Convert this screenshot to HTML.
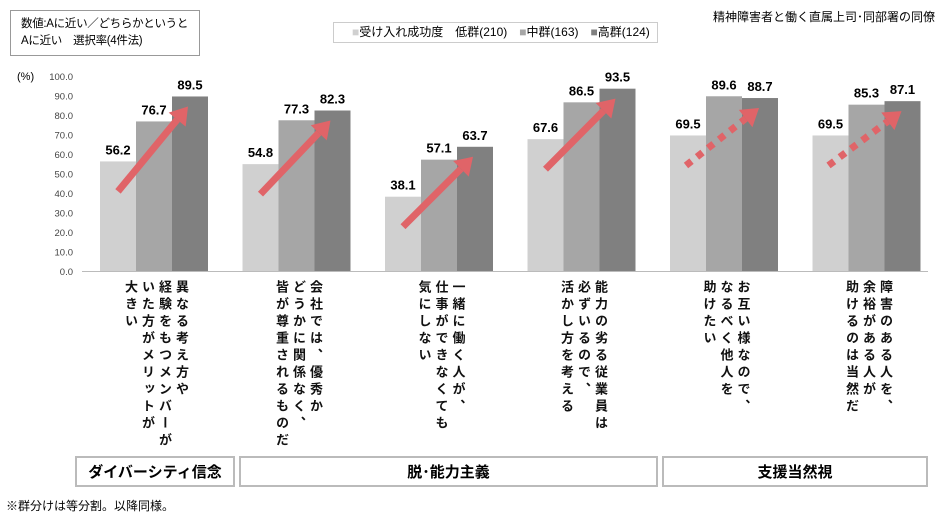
<!DOCTYPE html>
<html><head><meta charset="utf-8">
<style>
body{margin:0;background:#fff;font-family:"Liberation Sans","Noto Sans CJK JP",sans-serif;}
#wrap{position:relative;width:945px;height:520px;overflow:hidden;}
.vt{position:absolute;writing-mode:vertical-rl;font-weight:bold;font-size:13px;line-height:17px;letter-spacing:4px;color:#111;}
.box{position:absolute;border:2px solid #bbb;box-sizing:border-box;display:flex;align-items:center;justify-content:center;font-weight:bold;font-size:15px;}
</style></head><body>
<div id="wrap">
<div style="position:absolute;left:10px;top:10px;width:190px;height:46px;border:1px solid #999;box-sizing:border-box;font-size:11.5px;line-height:17px;padding:5px 0 0 10px;white-space:nowrap;letter-spacing:-0.3px;">数値:Aに近い／どちらかというと<br>Aに近い　選択率(4件法)</div>
<div style="position:absolute;right:10px;top:8px;font-size:12px;">精神障害者と働く直属上司･同部署の同僚</div>
<div style="position:absolute;left:333px;top:22px;width:325px;height:21px;border:1px solid #ccc;box-sizing:border-box;font-size:12px;line-height:19px;padding-left:18px;white-space:nowrap;">
<span style="color:#d0d0d0">■</span>受け入れ成功度　低群(210)　<span style="color:#a6a6a6">■</span>中群(163)　<span style="color:#808080">■</span>高群(124)</div>
<svg id="svg" width="945" height="520" style="position:absolute;left:0;top:0"></svg>
<div id="labels"></div>
<div class="box" style="left:75px;top:456px;width:160px;height:31px;">ダイバーシティ信念</div>
<div class="box" style="left:239px;top:456px;width:419px;height:31px;">脱･能力主義</div>
<div class="box" style="left:662px;top:456px;width:266px;height:31px;">支援当然視</div>
<div style="position:absolute;left:6px;top:497px;font-size:12px;">※群分けは等分割。以降同様。</div>
</div>
<script>
const categories=["異なる考え方や\n経験をもつメンバーが\nいた方がメリットが\n大きい","会社では、優秀か\nどうかに関係なく、\n皆が尊重されるものだ","一緒に働く人が、\n仕事ができなくても\n気にしない","能力の劣る従業員は\n必ずいるので、\n活かし方を考える","お互い様なので、\nなるべく他人を\n助けたい","障害のある人を、\n余裕がある人が\n助けるのは当然だ"];
const lowVals=[56.2,54.8,38.1,67.6,69.5,69.5];
const midVals=[76.7,77.3,57.1,86.5,89.6,85.3];
const highVals=[89.5,82.3,63.7,93.5,88.7,87.1];
const dotted=[false,false,false,false,true,true];
const yTicks=[0,10,20,30,40,50,60,70,80,90,100];
const NS="http://www.w3.org/2000/svg",svg=document.getElementById('svg');
const y=v=>271-v*1.95;
const gx=i=>154+i*142.5;
function mk(t,a){const e=document.createElementNS(NS,t);for(const k in a)e.setAttribute(k,a[k]);svg.appendChild(e);return e;}
let t=mk('text',{x:17,y:80,'font-size':11});t.textContent='(%)';

yTicks.forEach(v=>{const e=mk('text',{x:73,y:y(v)+4,'font-size':9.5,'text-anchor':'end',fill:'#444'});e.textContent=v.toFixed(1);
});
const cols=['#d0d0d0','#a6a6a6','#808080'];
categories.forEach((c,i)=>{
 [lowVals,midVals,highVals].forEach((s,j)=>{
  const x=gx(i)-54+j*36;
  const r=mk('rect',{x:x,y:y(s[i]),width:36,height:271-y(s[i]),fill:cols[j]});
  
  const tx=mk('text',{x:x+18,y:y(s[i])-7,'font-size':13,'font-weight':'bold','text-anchor':'middle'});tx.textContent=s[i].toFixed(1);
  
 });
 const x1=gx(i)-(dotted[i]?38:36),y1=y(lowVals[i])+30;
 const x2=gx(i)+(dotted[i]?35:34),y2=y(highVals[i])+10;
 const dx=x2-x1,dy=y2-y1,L=Math.hypot(dx,dy),ux=dx/L,uy=dy/L;
 const bx=x2-ux*17,by=y2-uy*17;
 const ln=mk('line',{x1:x1,y1:y1,x2:bx,y2:by,stroke:'#e06468','stroke-width':7,'stroke-dasharray':dotted[i]?'7 7':'none'});
 
 const hd=mk('polygon',{points:`${x2},${y2} ${bx-uy*11},${by+ux*11} ${bx+uy*11},${by-ux*11}`,fill:'#e06468'});
 
 const d=document.createElement('div');d.className='vt';
 
 d.innerHTML=c.split('\n').join('<br>');
 document.getElementById('labels').appendChild(d);
 const w=c.split('\n').length*17;d.style.left=(gx(i)-w/2+2)+'px';d.style.top='280px';
});
const ax=mk('line',{x1:82,y1:271.5,x2:928,y2:271.5,stroke:'#bbb','stroke-width':1});

</script>
</body></html>
